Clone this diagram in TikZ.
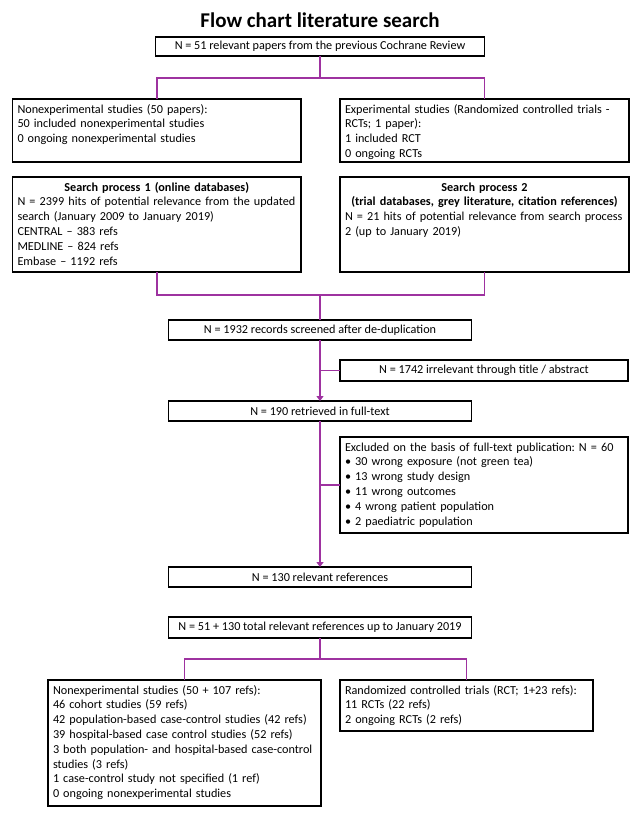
\documentclass[tikz,border=0pt]{standalone}
\usepackage{fontspec}
\setmainfont{Carlito}
\usetikzlibrary{arrows.meta}
\definecolor{FlowPurple}{RGB}{158,50,160}

\begin{document}
\begin{tikzpicture}[x=1pt,y=-1pt,
  every node/.style={font=\fontsize{12.2}{14.8}\selectfont\frenchspacing, outer sep=0pt},
  box/.style={draw, line width=1.6pt},
  cbox/.style={box, align=center, inner sep=0pt, minimum height=20pt},
  lbox/.style={box, anchor=north west, align=left, inner xsep=5pt,
               inner ysep=5pt, text height=9pt},
  link/.style={draw=FlowPurple, line width=1.8pt},
  arrowlink/.style={link, -{Triangle[length=5pt,width=7pt]}}]
  \useasboundingbox (0,0) rectangle (640,831);
  \node[font=\fontsize{21}{25}\selectfont\bfseries, anchor=base] (title) at (320,27)
    {Flow chart literature search};
  \node[cbox, minimum width=329pt, minimum height=19pt] (prev) at (320,46.5)
    {N = 51 relevant papers from the previous Cochrane Review};
  \node[lbox, text width=278.5pt, text depth=44pt] (nonexp) at (12.5,99)
    {Nonexperimental studies (50 papers):\\50 included nonexperimental studies\\0 ongoing nonexperimental studies};
  \node[lbox, text width=279pt, text depth=44pt] (exp) at (340,99)
    {\mbox{Experimental studies (Randomized controlled trials -}\\RCTs; 1 paper):\\1 included RCT\\0 ongoing RCTs};
  \node[lbox, text width=278.5pt, text depth=76pt] (search1) at (12.5,177)
    {\makebox[\linewidth]{\bfseries Search process 1 (online databases)}\\\mbox{N = 2399 hits of potential relevance from the updated}\\search (January 2009 to January 2019)\\CENTRAL -- 383 refs\\MEDLINE -- 824 refs\\Embase -- 1192 refs};
  \node[lbox, text width=279pt, text depth=76pt] (search2) at (340,177)
    {\makebox[\linewidth]{\bfseries Search process 2}\\\makebox[\linewidth]{\bfseries (trial databases, grey literature, citation references)}\\\mbox{N = 21 hits of potential relevance from search process}\\2 (up to January 2019)};
  \node[cbox, minimum width=303pt] (screened) at (320,330)
    {N = 1932 records screened after de-duplication};
  \node[cbox, minimum width=288pt, minimum height=21pt] (irrelevant) at (484,370.5)
    {N = 1742 irrelevant through title / abstract};
  \node[cbox, minimum width=303pt] (fulltext) at (320,411)
    {N = 190 retrieved in full-text};
  \node[lbox, text width=278pt, text depth=77pt] (excluded) at (340,437)
    {\mbox{Excluded on the basis of full-text publication: N = 60}\\\textbullet{} 30 wrong exposure (not green tea)\\\textbullet{} 13 wrong study design\\\textbullet{} 11 wrong outcomes\\\textbullet{} 4 wrong patient population\\\textbullet{} 2 paediatric population};
  \node[cbox, minimum width=303pt] (relevant) at (320,577)
    {N = 130 relevant references};
  \node[cbox, minimum width=303pt, minimum height=21pt] (total) at (320,627.5)
    {N = 51 + 130 total relevant references up to January 2019};
  \node[lbox, text width=263pt, text depth=107pt] (nonexpfinal) at (48,680)
    {Nonexperimental studies (50 + 107 refs):\\46 cohort studies (59 refs)\\\mbox{42 population-based case-control studies (42 refs)}\\\mbox{39 hospital-based case control studies (52 refs)}\\\mbox{3 both population- and hospital-based case-control}\\studies (3 refs)\\1 case-control study not specified (1 ref)\\0 ongoing nonexperimental studies};
  \node[lbox, text width=243pt, text depth=32pt] (rctfinal) at (340,680)
    {\mbox{Randomized controlled trials (RCT; 1+23 refs):}\\11 RCTs (22 refs)\\2 ongoing RCTs (2 refs)};
  \coordinate (split1) at (320,78);
  \coordinate (merge) at (320,295);
  \coordinate (split2) at (320,659);
  \draw[link] (prev) -- (split1);
  \draw[link] (split1) -| (nonexp);
  \draw[link] (split1) -| (exp);
  \draw[link] (search1) |- (merge);
  \draw[link] (search2) |- (merge);
  \draw[link] (merge) -- (screened);
  \draw[arrowlink] (screened) -- (fulltext);
  \draw[link] (irrelevant) -- (irrelevant.west -| screened.south);
  \draw[arrowlink] (fulltext) -- (relevant);
  \draw[link] (excluded) -- (excluded.west -| fulltext.south);
  \draw[link] (total) -- (split2);
  \draw[link] (split2) -| (nonexpfinal);
  \draw[link] (split2) -| (rctfinal);
\end{tikzpicture}
\end{document}
